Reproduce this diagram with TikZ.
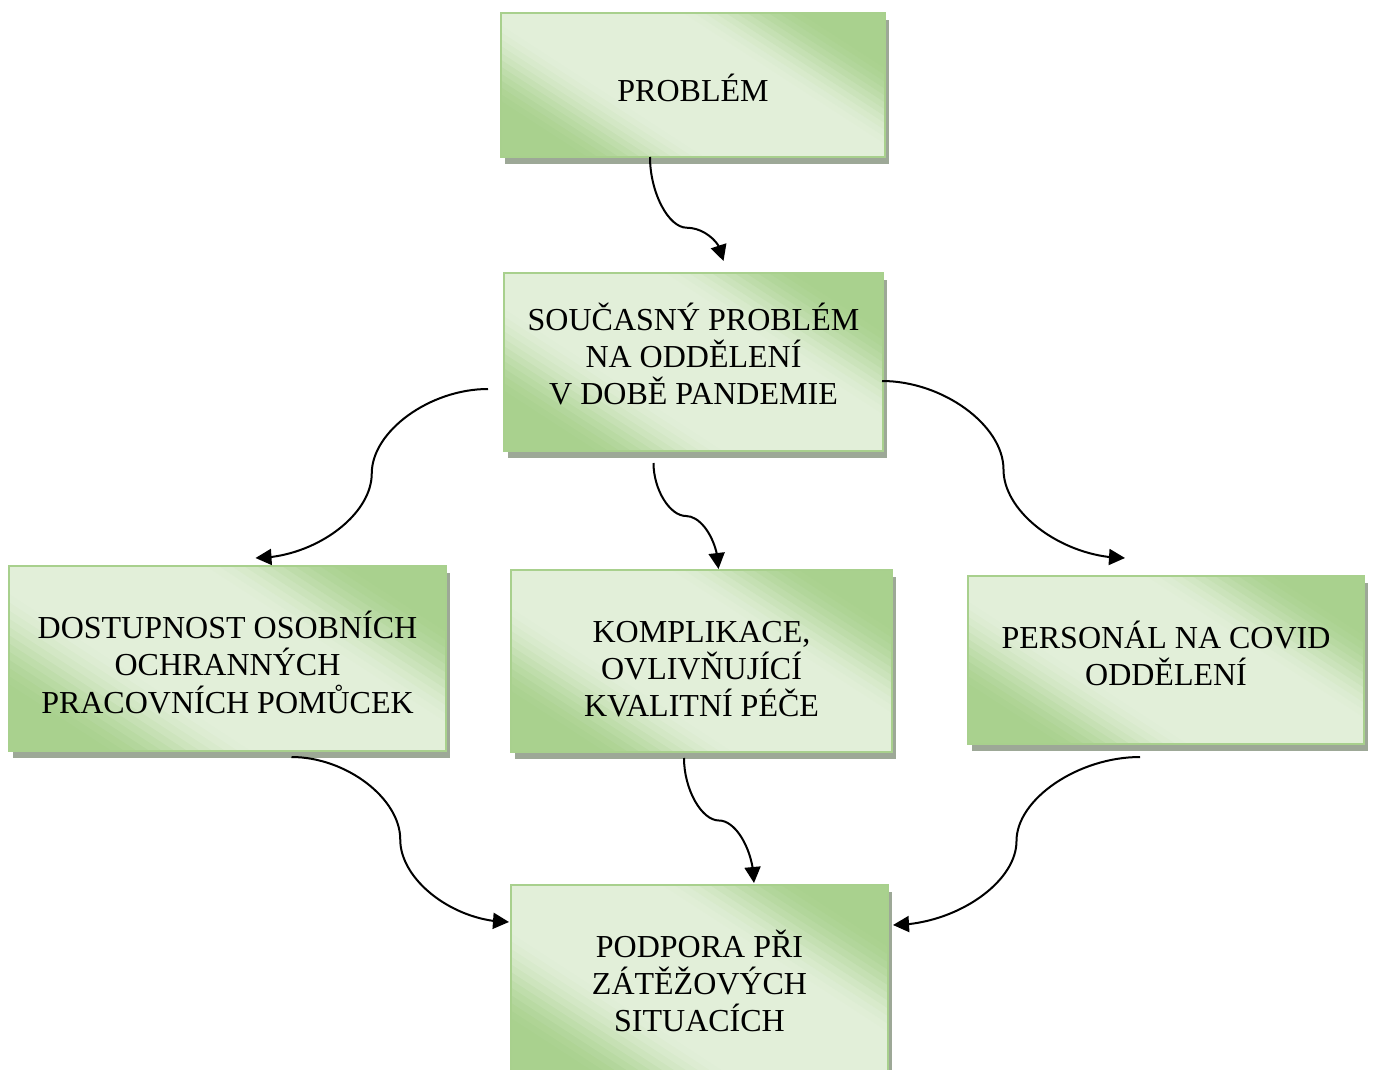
\documentclass[tikz,border=0pt]{standalone}
\usepackage{fontspec}
\setmainfont{Liberation Serif}
\usetikzlibrary{shadows,arrows.meta,bending,calc}
\definecolor{gdark}{HTML}{A9D18E}
\definecolor{glight}{HTML}{E2EFD9}
\definecolor{gborder}{HTML}{A8D08D}
\definecolor{shadowc}{HTML}{9DA897}
\begin{document}
\begin{tikzpicture}[x=1pt,y=-1pt,
  box/.style={rectangle, draw=gborder, fill=glight, line width=2pt, inner sep=0pt,
    drop shadow={opacity=1, fill=shadowc, shadow xshift=4pt, shadow yshift=-7pt},
    path picture={
      \pgfpointdiff{\pgfpointanchor{path picture bounding box}{south west}}{\pgfpointanchor{path picture bounding box}{north east}}%
      \pgfgetlastxy{\bw}{\bh}%
      \pgfmathsetlengthmacro{\hw}{\bw/2}%
      \pgfmathsetlengthmacro{\hh}{\bh/2}%
      \pgfmathsetmacro{\aa}{0.545*\bw/(0.545*\bw+0.839*\bh)}%
      \pgfmathsetmacro{\bb}{1-\aa}%
      \begin{scope}[shift={(path picture bounding box.center)}, x=\hw, y=\hh]
        \foreach \s in {-1.1,-1.065,...,1.1} {
          \pgfmathsetmacro{\q}{min(1,max(0,(abs(\s+0.0175)-0.3)/0.45))}%
          \pgfmathsetmacro{\p}{100*\q*\q*(3-2*\q)}%
          \fill[gdark!\p!glight] ({(\s+4*\bb)/\aa},-4) -- ({(\s-4*\bb)/\aa},4) -- ({(\s-4*\bb)/\aa+20},4) -- ({(\s+4*\bb)/\aa+20},-4) -- cycle;
        }
      \end{scope}
    }},
  txt/.style={align=center, inner sep=0pt, font=\fontsize{32}{37}\selectfont},
  conn/.style={line width=2pt, -{Triangle[length=16pt,width=16pt]}},
  hcurve/.style={to path={let \p1=(\tikztostart), \p2=(\tikztotarget) in
    .. controls ({(3*\x1+\x2)/4},\y1) and ({(\x1+\x2)/2},{(3*\y1+\y2)/4})
    .. ({(\x1+\x2)/2},{(\y1+\y2)/2})
    .. controls ({(\x1+\x2)/2},{(\y1+3*\y2)/4}) and ({(\x1+3*\x2)/4},\y2)
    .. (\tikztotarget)}},
  vcurve/.style={to path={let \p1=(\tikztostart), \p2=(\tikztotarget) in
    .. controls (\x1,{\y1+#1*(\y2-(\y1))/2}) and ({(3*\x1+\x2)/4},{\y1+#1*(\y2-(\y1))})
    .. ({(\x1+\x2)/2},{\y1+#1*(\y2-(\y1))})
    .. controls ({(\x1+3*\x2)/4},{\y1+#1*(\y2-(\y1))}) and (\x2,{(\y1+#1*(\y2-(\y1))+\y2)/2})
    .. (\tikztotarget)}}
]
\useasboundingbox (0,0) rectangle (1373,1070);
\clip (0,0) rectangle (1373,1070);
\fill[white] (0,0) rectangle (1373,1070);

\node[box, minimum width=384pt, minimum height=144pt] (prob) at (693,85) {};
\node[box, minimum width=379pt, minimum height=178pt] (souc) at (693.5,362) {};
\node[box, minimum width=437pt, minimum height=185pt] (dost) at (227.5,658.5) {};
\node[box, minimum width=381pt, minimum height=182pt] (komp) at (701.5,661) {};
\node[box, minimum width=396pt, minimum height=168pt] (pers) at (1166,660) {};
\node[box, minimum width=377pt, minimum height=196pt] (podp) at (699.5,983) {};

\node[txt] (prob-t) at (693,87.5) {PROBLÉM};
\node[txt] (souc-t) at (693.5,353.5) {SOUČASNÝ PROBLÉM\\NA ODDĚLENÍ\\V DOBĚ PANDEMIE};
\node[txt] (dost-t) at (227.5,662.5) {DOSTUPNOST OSOBNÍCH\\OCHRANNÝCH\\PRACOVNÍCH POMŮCEK};
\node[txt] (komp-t) at (701.5,669) {KOMPLIKACE,\\OVLIVŇUJÍCÍ\\KVALITNÍ PÉČE};
\node[txt] (pers-t) at (1166,653) {PERSONÁL NA COVID\\ODDĚLENÍ};
\node[txt] (podp-t) at (699.5,981) {PODPORA PŘI\\ZÁTĚŽOVÝCH\\SITUACÍCH};

\coordinate (a1s) at ([xshift=-43pt,yshift=1pt]prob.south);
\coordinate (a1e) at ([xshift=30pt,yshift=11pt]souc.north);
\coordinate (a2s) at ([xshift=-15pt,yshift=-27pt]souc.west);
\coordinate (a2e) at ([xshift=28pt,yshift=7pt]dost.north);
\coordinate (a3s) at ([xshift=-40pt,yshift=-11pt]souc.south);
\coordinate (a3e) at ([xshift=17pt]komp.north);
\coordinate (a4s) at ([xshift=-2pt,yshift=-19pt]souc.east);
\coordinate (a4e) at ([xshift=-41pt,yshift=17pt]pers.north);
\coordinate (a5s) at ([xshift=64pt,yshift=-5pt]dost.south);
\coordinate (a5e) at ([xshift=-1pt,yshift=61pt]podp.west);
\coordinate (a6s) at ([xshift=-17.5pt,yshift=-5pt]komp.south);
\coordinate (a6e) at ([xshift=54.5pt,yshift=1pt]podp.north);
\coordinate (a7s) at ([xshift=-26pt,yshift=-12pt]pers.south);
\coordinate (a7e) at ([xshift=4pt,yshift=58pt]podp.east);

\draw[conn, vcurve=0.68] (a1s) to (a1e);
\draw[conn, hcurve] (a2s) to (a2e);
\draw[conn, vcurve=0.5] (a3s) to (a3e);
\draw[conn, hcurve] (a4s) to (a4e);
\draw[conn, hcurve] (a5s) to (a5e);
\draw[conn, vcurve=0.5] (a6s) to (a6e);
\draw[conn, hcurve] (a7s) to (a7e);
\end{tikzpicture}
\end{document}
